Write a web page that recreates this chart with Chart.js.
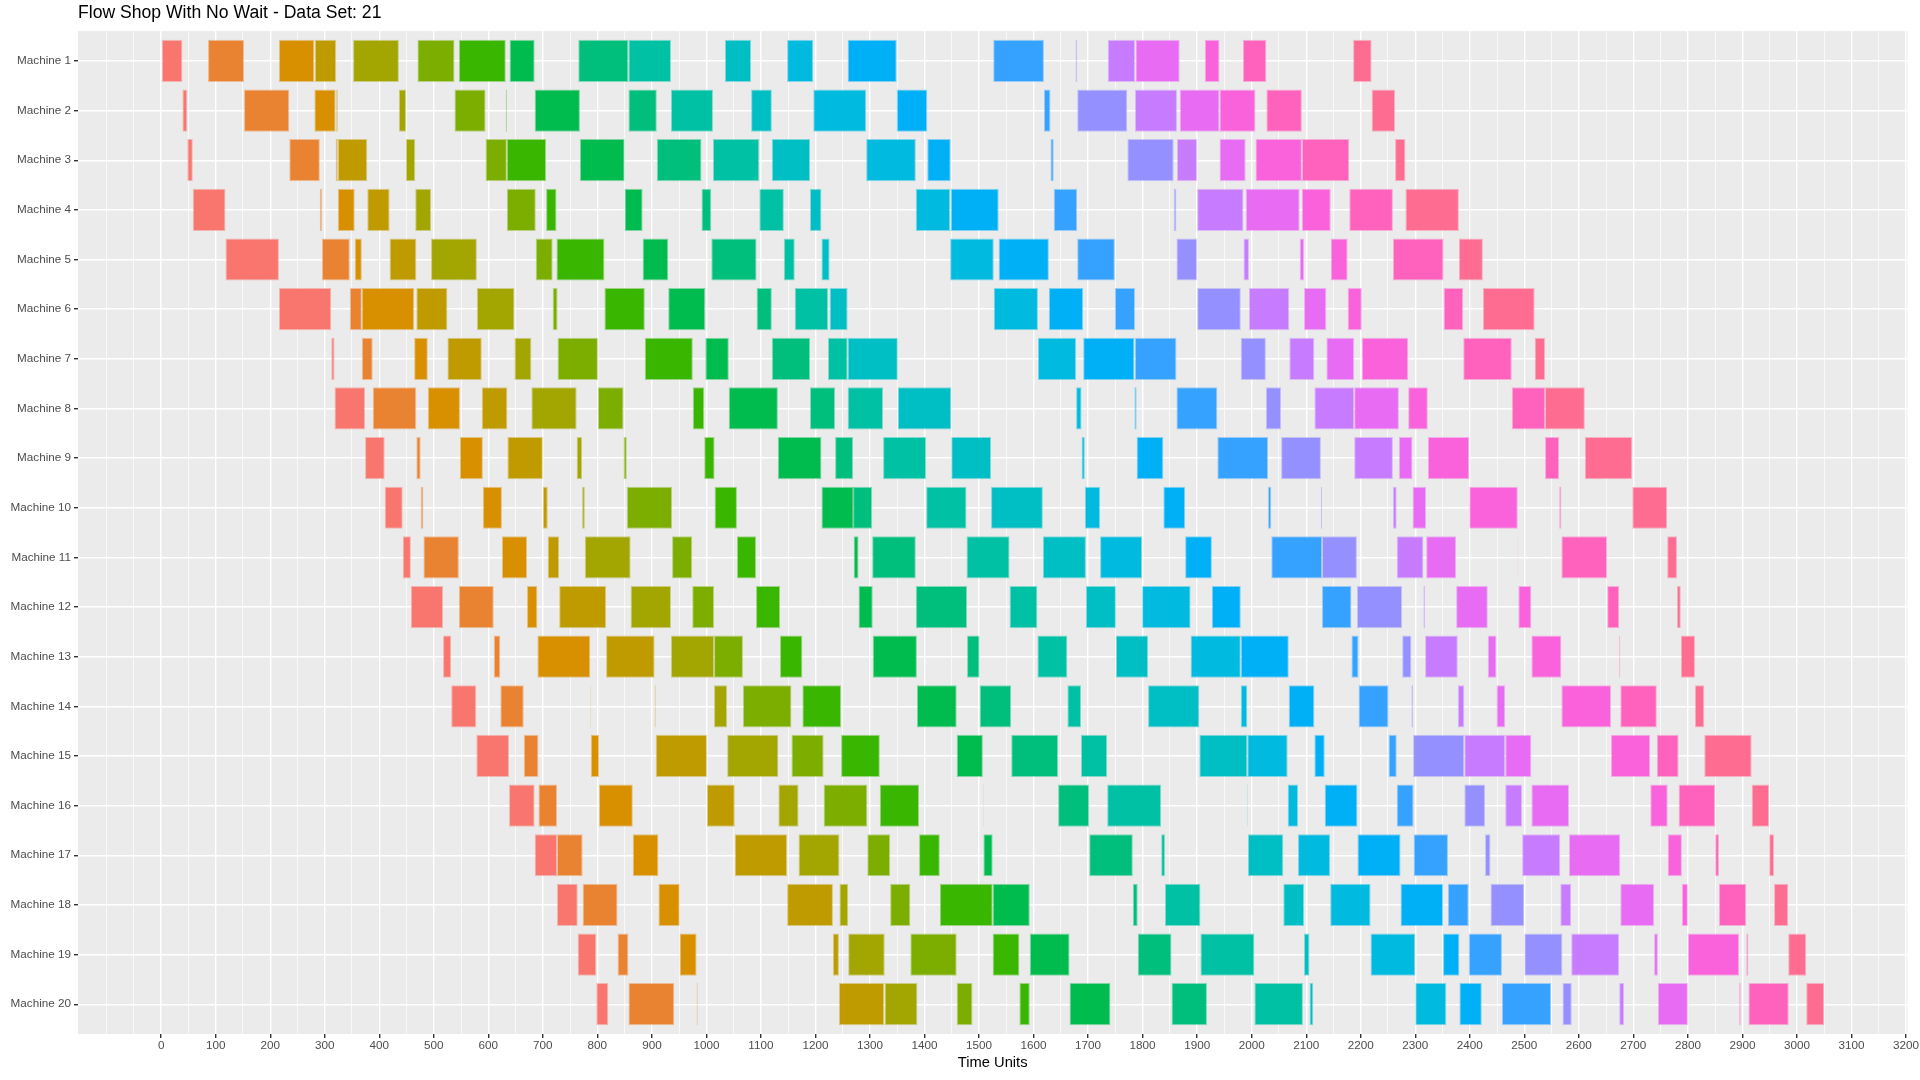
<!DOCTYPE html>
<html>
<head>
<meta charset="utf-8">
<title>Flow Shop With No Wait - Data Set: 21</title>
<script src="https://cdn.jsdelivr.net/npm/chart.js@4.4.1/dist/chart.umd.min.js"></script>
<style>
  html, body { margin: 0; padding: 0; background: #ffffff; }
  #wrap { width: 1920px; height: 1080px; }
</style>
</head>
<body>
<div id="wrap"><canvas id="gantt" width="1920" height="1080"></canvas></div>
<script>
const machines = [
  'Machine 1', 'Machine 2', 'Machine 3', 'Machine 4', 'Machine 5',
  'Machine 6', 'Machine 7', 'Machine 8', 'Machine 9', 'Machine 10',
  'Machine 11', 'Machine 12', 'Machine 13', 'Machine 14', 'Machine 15',
  'Machine 16', 'Machine 17', 'Machine 18', 'Machine 19', 'Machine 20'
];

// start time of each job on Machine 1, in sequence order
const jobStart = [0, 86, 216, 282, 352, 470, 546, 639, 765, 857, 1034, 1148, 1259, 1526, 1677, 1736, 1787, 1914, 1984, 2186];

// processing time of each job on Machine 1..20
const job01 = [39, 9, 10, 60, 98, 96, 6, 56, 36, 33, 15, 59, 15, 46, 60, 47, 41, 38, 34, 22];
const job02 = [66, 83, 56, 4, 51, 22, 20, 80, 8, 5, 65, 64, 12, 43, 27, 34, 47, 64, 20, 84];
const job03 = [65, 39, 4, 31, 13, 96, 25, 59, 42, 35, 46, 19, 97, 1, 15, 62, 47, 39, 31, 2];
const job04 = [39, 3, 54, 41, 49, 57, 63, 47, 65, 9, 21, 86, 89, 2, 94, 51, 96, 84, 11, 83];
const job05 = [84, 13, 17, 29, 84, 69, 31, 83, 10, 5, 84, 74, 79, 24, 94, 37, 75, 16, 67, 60];
const job06 = [68, 57, 39, 53, 31, 9, 74, 47, 6, 83, 37, 40, 53, 89, 59, 80, 42, 37, 85, 29];
const job07 = [86, 2, 72, 19, 88, 74, 88, 21, 19, 41, 35, 44, 41, 71, 71, 72, 38, 97, 49, 19];
const job08 = [46, 83, 82, 33, 47, 68, 43, 90, 80, 59, 9, 26, 81, 73, 48, 1, 17, 68, 73, 75];
const job09 = [92, 52, 82, 18, 83, 28, 70, 46, 33, 35, 80, 94, 23, 58, 86, 57, 80, 9, 62, 65];
const job10 = [78, 77, 85, 45, 20, 61, 36, 65, 79, 74, 79, 51, 55, 25, 48, 99, 7, 65, 99, 89];
const job11 = [48, 38, 70, 21, 15, 33, 92, 98, 73, 95, 79, 55, 59, 94, 88, 1, 65, 38, 10, 7];
const job12 = [48, 97, 91, 63, 80, 81, 70, 10, 6, 28, 77, 89, 92, 12, 74, 19, 59, 74, 82, 57];
const job13 = [90, 56, 43, 88, 92, 63, 94, 4, 49, 40, 49, 53, 88, 47, 19, 60, 79, 78, 30, 41];
const job14 = [93, 12, 6, 43, 69, 37, 76, 75, 93, 6, 93, 54, 13, 55, 15, 31, 63, 38, 61, 90];
const job15 = [3, 92, 85, 5, 38, 80, 46, 28, 73, 2, 64, 83, 17, 3, 94, 38, 10, 62, 70, 17];
const job16 = [50, 77, 37, 85, 10, 74, 46, 73, 71, 7, 49, 3, 60, 12, 75, 31, 70, 20, 88, 9];
const job17 = [81, 73, 48, 99, 8, 41, 51, 82, 25, 25, 55, 58, 16, 16, 48, 69, 94, 62, 7, 55];
const job18 = [27, 66, 85, 53, 31, 26, 85, 36, 76, 89, 1, 24, 55, 91, 72, 32, 26, 11, 94, 3];
const job19 = [43, 65, 87, 80, 93, 36, 89, 61, 26, 4, 84, 22, 2, 67, 40, 67, 7, 50, 4, 74];
const job20 = [34, 43, 19, 98, 44, 95, 19, 73, 87, 64, 18, 7, 26, 17, 87, 32, 9, 26, 33, 33];

const jobs = [job01, job02, job03, job04, job05, job06, job07, job08, job09, job10,
              job11, job12, job13, job14, job15, job16, job17, job18, job19, job20];

const timeBreaks = [0, 100, 200, 300, 400, 500, 600, 700, 800, 900, 1000, 1100, 1200, 1300, 1400, 1500, 1600,
                    1700, 1800, 1900, 2000, 2100, 2200, 2300, 2400, 2500, 2600, 2700, 2800, 2900, 3000, 3100, 3200];

// ggplot hue palette, 20 levels
const jobColors = ['#F8766D', '#EA8331', '#D89000', '#C09B00', '#A3A500', '#7CAE00', '#39B600', '#00BB4E', '#00BF7D', '#00C1A3',
                   '#00BFC4', '#00BAE0', '#00B0F6', '#35A2FF', '#9590FF', '#C77CFF', '#E76BF3', '#FA62DB', '#FF62BC', '#FF6C91'];

const FONT = '"Liberation Sans", Arial, Helvetica, sans-serif';

function fade(hex, a) {
  const n = parseInt(hex.slice(1), 16);
  return `rgba(${(n >> 16) & 255}, ${(n >> 8) & 255}, ${n & 255}, ${a})`;
}

// no wait: a job moves on to the next machine the moment it is done
function jobBars(start, times) {
  let t = start;
  return times.map((p, i) => {
    const bar = { y: i + 1, x: [t, t + p] };
    t += p;
    return bar;
  });
}

// white grid: major lines on the breaks, thin ones half way between
const gridValues = [-100, -50];
timeBreaks.forEach(b => {
  gridValues.push(b);
  if (b < 3200) gridValues.push(b + 50);
});
const isMajor = v => timeBreaks.includes(v);

const panelBg = {
  id: 'panelBg',
  beforeDraw(chart) {
    const { ctx, chartArea: a } = chart;
    ctx.save();
    ctx.fillStyle = '#ffffff';
    ctx.fillRect(0, 0, chart.width, chart.height);
    ctx.fillStyle = '#EBEBEB';
    ctx.fillRect(a.left, a.top, a.right - a.left, a.bottom - a.top);
    ctx.restore();
  }
};

const datasets = jobs.map((times, j) => ({
  label: 'Job ' + (j + 1),
  data: jobBars(jobStart[j], times),
  backgroundColor: jobColors[j],
  borderColor: fade(jobColors[j], 0.45),
  borderWidth: 1,
  borderSkipped: false,
  inflateAmount: 0,
  grouped: false,
  barPercentage: 0.85,
  categoryPercentage: 1
}));

new Chart(document.getElementById('gantt'), {
  type: 'bar',
  data: { datasets: datasets },
  plugins: [panelBg],
  options: {
    indexAxis: 'y',
    responsive: false,
    animation: false,
    devicePixelRatio: 1,
    layout: { padding: { left: 0, right: 8, top: 0, bottom: 0 } },
    plugins: {
      legend: { display: false },
      tooltip: { enabled: false },
      title: {
        display: true,
        text: 'Flow Shop With No Wait - Data Set: 21',
        align: 'start',
        fullSize: false,
        color: '#000000',
        font: { family: FONT, size: 17.6, weight: 'normal' },
        padding: { top: 3, bottom: 7 }
      }
    },
    scales: {
      x: {
        type: 'linear',
        position: 'bottom',
        min: -152.5,
        max: 3202.5,
        afterBuildTicks: scale => { scale.ticks = gridValues.map(v => ({ value: v })); },
        afterFit: scale => { scale.height = 46; },
        ticks: {
          autoSkip: false,
          maxRotation: 0,
          padding: 1,
          color: '#4D4D4D',
          font: { family: FONT, size: 11.7 },
          callback: v => isMajor(v) ? String(v) : ''
        },
        grid: {
          color: '#FFFFFF',
          lineWidth: c => isMajor(c.tick.value) ? 1.4 : 0.7,
          tickLength: 4,
          tickColor: c => isMajor(c.tick.value) ? '#333333' : 'rgba(0,0,0,0)'
        },
        border: { display: false },
        title: {
          display: true,
          text: 'Time Units',
          color: '#000000',
          font: { family: FONT, size: 14.7 },
          padding: { top: 2, bottom: 8 }
        }
      },
      y: {
        type: 'linear',
        reverse: true,
        offset: false,
        min: 0.4,
        max: 20.6,
        afterBuildTicks: scale => { scale.ticks = machines.map((m, i) => ({ value: i + 1 })); },
        afterFit: scale => { scale.width = 78; },
        ticks: {
          autoSkip: false,
          padding: 3,
          color: '#4D4D4D',
          font: { family: FONT, size: 11.7 },
          callback: v => machines[v - 1]
        },
        grid: {
          offset: false,
          color: '#FFFFFF',
          lineWidth: 1.4,
          tickLength: 4,
          tickColor: '#333333'
        },
        border: { display: false }
      }
    }
  }
});
</script>
</body>
</html>
